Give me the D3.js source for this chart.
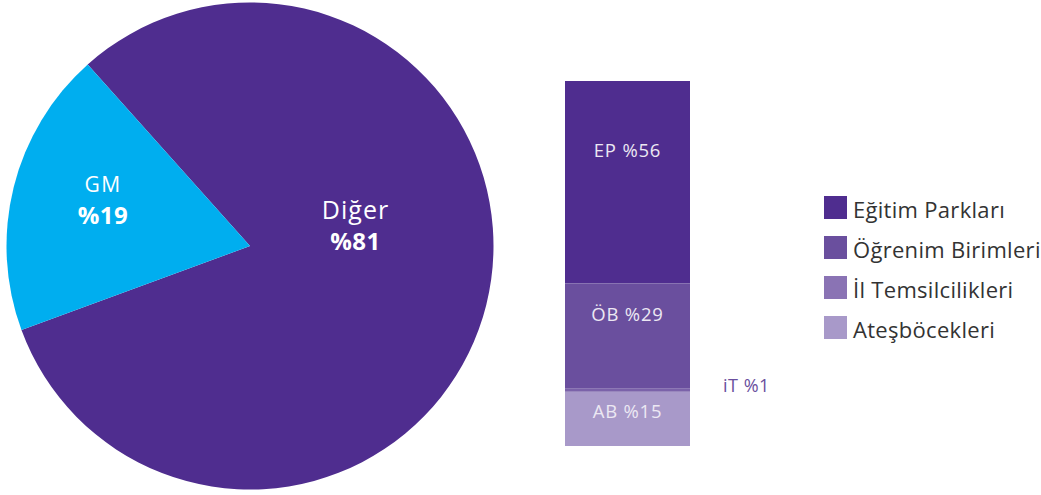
<!DOCTYPE html>
<html><head><meta charset="utf-8">
<script src="https://cdn.jsdelivr.net/npm/d3@7"></script>
<style>body{margin:0;background:#fff}svg{display:block}text{font-family:"Open Sans",sans-serif}</style>
</head><body><svg id="c" width="1041" height="495"></svg>
<script>
const pieLabels = ["Diğer", "GM"];
const pieValues = [81, 19];
const pieColors = ["#4f2d8f", "#00aeef"];

const barCodes = ["EP", "ÖB", "iT", "AB"];
const barValues = [56, 29, 1, 15];
const barColors = ["#4f2d8f", "#6a4f9e", "#7b62a9", "#a899c9"];

const legendLabels = ["Eğitim Parkları", "Öğrenim Birimleri", "İl Temsilcilikleri", "Ateşböcekleri"];
const legendColors = ["#4f2d8f", "#6a4f9e", "#8a73b4", "#a899c9"];

const svg = d3.select("#c");

// Pie
const cx = 250, cy = 246, R = 243.5;
const start = -41.8 * Math.PI / 180;
const pie = d3.pie().sort(null).startAngle(start).endAngle(start + 2 * Math.PI);
const arcs = pie(pieValues);
const arc = d3.arc().innerRadius(0).outerRadius(R);
const gp = svg.append("g").attr("transform", `translate(${cx},${cy})`);
gp.selectAll("path").data(arcs).join("path").attr("d", arc).attr("fill", (d, i) => pieColors[i]);

const pieLabelPos = [[105.5, -27], [-147, -54]];
const pieNameSize = [25, 21];
arcs.forEach((d, i) => {
  const [x, y] = pieLabelPos[i];
  gp.append("text").attr("x", x).attr("y", y).attr("text-anchor", "middle")
    .attr("fill", "#fff").attr("font-size", pieNameSize[i]).attr("letter-spacing", i === 0 ? 1 : 1.5)
    .text(pieLabels[i]);
  gp.append("text").attr("x", x).attr("y", y + (i === 0 ? 31 : 32)).attr("text-anchor", "middle")
    .attr("fill", "#fff").attr("font-size", 24).attr("font-weight", 700).attr("letter-spacing", 0.5)
    .text("%" + pieValues[i]);
});

// Stacked bar
const total = d3.sum(barValues);
const y = d3.scaleLinear().domain([0, total]).range([81, 446]);
const bx = 565, bw = 125;
let acc = 0;
const segs = barValues.map((v, i) => { const s = { i, y0: acc, y1: acc + v, v }; acc += v; return s; });
svg.append("g").selectAll("rect").data(segs).join("rect")
  .attr("x", bx).attr("width", bw)
  .attr("y", d => y(d.y0)).attr("height", d => y(d.y1) - y(d.y0))
  .attr("fill", d => barColors[d.i]);
const labelY = { 0: 157, 1: 321, 3: 418 };
segs.forEach(d => {
  if (d.v >= 5) {
    svg.append("text").attr("x", bx + bw / 2).attr("y", labelY[d.i]).attr("text-anchor", "middle")
      .attr("fill", "#ece8f3").attr("font-size", 18.5).attr("letter-spacing", 0.8).text(barCodes[d.i] + " %" + d.v);
  } else {
    svg.append("text").attr("x", 723).attr("y", 392).attr("text-anchor", "start")
      .attr("fill", "#6a4f9e").attr("font-size", 18).attr("letter-spacing", 0.5).text(barCodes[d.i] + " %" + d.v);
  }
});

// Legend
const lg = svg.append("g");
legendLabels.forEach((t, i) => {
  const ty = 196 + i * 40;
  lg.append("rect").attr("x", 824).attr("y", ty).attr("width", 23).attr("height", 23).attr("fill", legendColors[i]);
  lg.append("text").attr("x", 853).attr("y", ty + 22).attr("fill", "#333").attr("font-size", 22)
    .attr("letter-spacing", 0.3).text(t);
});
</script></body></html>
